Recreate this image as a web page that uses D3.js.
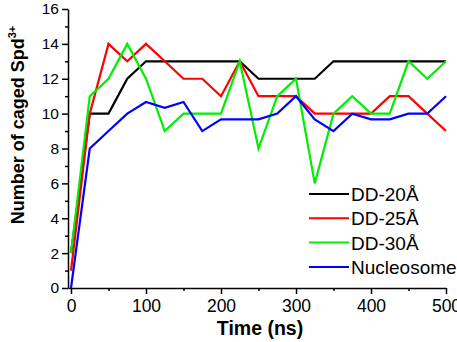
<!DOCTYPE html>
<html>
<head>
<meta charset="utf-8">
<script src="https://cdn.jsdelivr.net/npm/d3@7"></script>
<style>
  body { margin: 0; background: #fff; }
  svg text { font-family: "Liberation Sans", Arial, sans-serif; fill: #000; }
</style>
</head>
<body>
<div id="plot"></div>
<script>
const times = [0, 25, 50, 75, 100, 125, 150, 175, 200, 225, 250, 275, 300, 325, 350, 375, 400, 425, 450, 475, 500];
const dd20 = [2, 10, 10, 12, 13, 13, 13, 13, 13, 13, 12, 12, 12, 12, 13, 13, 13, 13, 13, 13, 13];
const dd25 = [1, 10, 14, 13, 14, 13, 12, 12, 11, 13, 11, 11, 11, 10, 10, 10, 10, 11, 11, 10, 9];
const dd30 = [2, 11, 12, 14, 12, 9, 10, 10, 10, 13, 8, 11, 12, 6, 10, 11, 10, 10, 13, 12, 13];
const nucleosome = [0, 8, 9, 10, 10.67, 10.33, 10.67, 9, 9.67, 9.67, 9.67, 10, 11, 9.67, 9, 10, 9.67, 9.67, 10, 10, 11];

const seriesNames = ["DD-20\u00C5", "DD-25\u00C5", "DD-30\u00C5", "Nucleosome"];
const seriesValues = [dd20, dd25, dd30, nucleosome];
const seriesColors = ["#000000", "#ff0000", "#00ee00", "#0000ff"];

const xMajor = [0, 100, 200, 300, 400, 500];
const xMinor = [50, 150, 250, 350, 450];
const yMajor = [0, 2, 4, 6, 8, 10, 12, 14, 16];
const yMinor = [1, 3, 5, 7, 9, 11, 13, 15];

const w = 457, h = 342;

const xScale = d3.scaleLinear().domain([-4, 500]).range([68, 446]);
const yScale = d3.scaleLinear().domain([0, 16]).range([288, 9]);

const svg = d3.select("#plot").append("svg")
  .attr("width", w)
  .attr("height", h);

// minor ticks first, then major axes with labels
svg.append("g")
  .attr("transform", "translate(0," + yScale(0) + ")")
  .call(d3.axisBottom(xScale).tickValues(xMinor).tickSize(3).tickFormat(""))
  .call(g => g.select(".domain").remove());
svg.append("g")
  .attr("transform", "translate(" + xScale(-4) + ",0)")
  .call(d3.axisLeft(yScale).tickValues(yMinor).tickSize(3).tickFormat(""))
  .call(g => g.select(".domain").remove());

const xAxis = svg.append("g")
  .attr("id", "x-axis")
  .attr("transform", "translate(0," + yScale(0) + ")")
  .call(d3.axisBottom(xScale).tickValues(xMajor).tickSize(6).tickSizeOuter(0));
xAxis.selectAll("text")
  .attr("y", 24).attr("dy", 0)
  .style("font-size", "17.5px");

const yAxis = svg.append("g")
  .attr("id", "y-axis")
  .attr("transform", "translate(" + xScale(-4) + ",0)")
  .call(d3.axisLeft(yScale).tickValues(yMajor).tickSize(6).tickSizeOuter(0));
yAxis.selectAll("text")
  .attr("x", -9)
  .style("font-size", "15.5px");

svg.selectAll(".domain, .tick line").attr("stroke", "#000").attr("stroke-width", 1.5);

//-------------lines------------------------
const line = d3.line()
  .x((d, i) => xScale(times[i]))
  .y(d => yScale(d));

svg.selectAll(".series")
  .data(seriesValues)
  .enter()
  .append("path")
  .attr("class", "series")
  .attr("d", d => line(d))
  .attr("fill", "none")
  .attr("stroke", (d, i) => seriesColors[i])
  .attr("stroke-width", 2.2)
  .attr("stroke-linejoin", "miter");

//-------------legend------------------------
const legend = svg.append("g").attr("id", "legend");
seriesNames.forEach((name, i) => {
  const y = 194 + i * 24.3;
  legend.append("line")
    .attr("x1", 309).attr("x2", 349)
    .attr("y1", y).attr("y2", y)
    .attr("stroke", seriesColors[i])
    .attr("stroke-width", 2);
  legend.append("text")
    .attr("x", 351)
    .attr("y", y + 7)
    .style("font-size", "19px")
    .text(name);
});

//-------------axis titles------------------------
svg.append("text")
  .attr("x", 260)
  .attr("y", 335)
  .attr("text-anchor", "middle")
  .style("font-size", "19.5px")
  .style("font-weight", "bold")
  .text("Time (ns)");

const yTitle = svg.append("text")
  .attr("transform", "translate(24,125) rotate(-90)")
  .attr("text-anchor", "middle")
  .style("font-size", "18px")
  .style("font-weight", "bold");
yTitle.append("tspan").text("Number of caged Spd");
yTitle.append("tspan")
  .attr("dy", -8)
  .style("font-size", "11px")
  .text("3+");
</script>
</body>
</html>
